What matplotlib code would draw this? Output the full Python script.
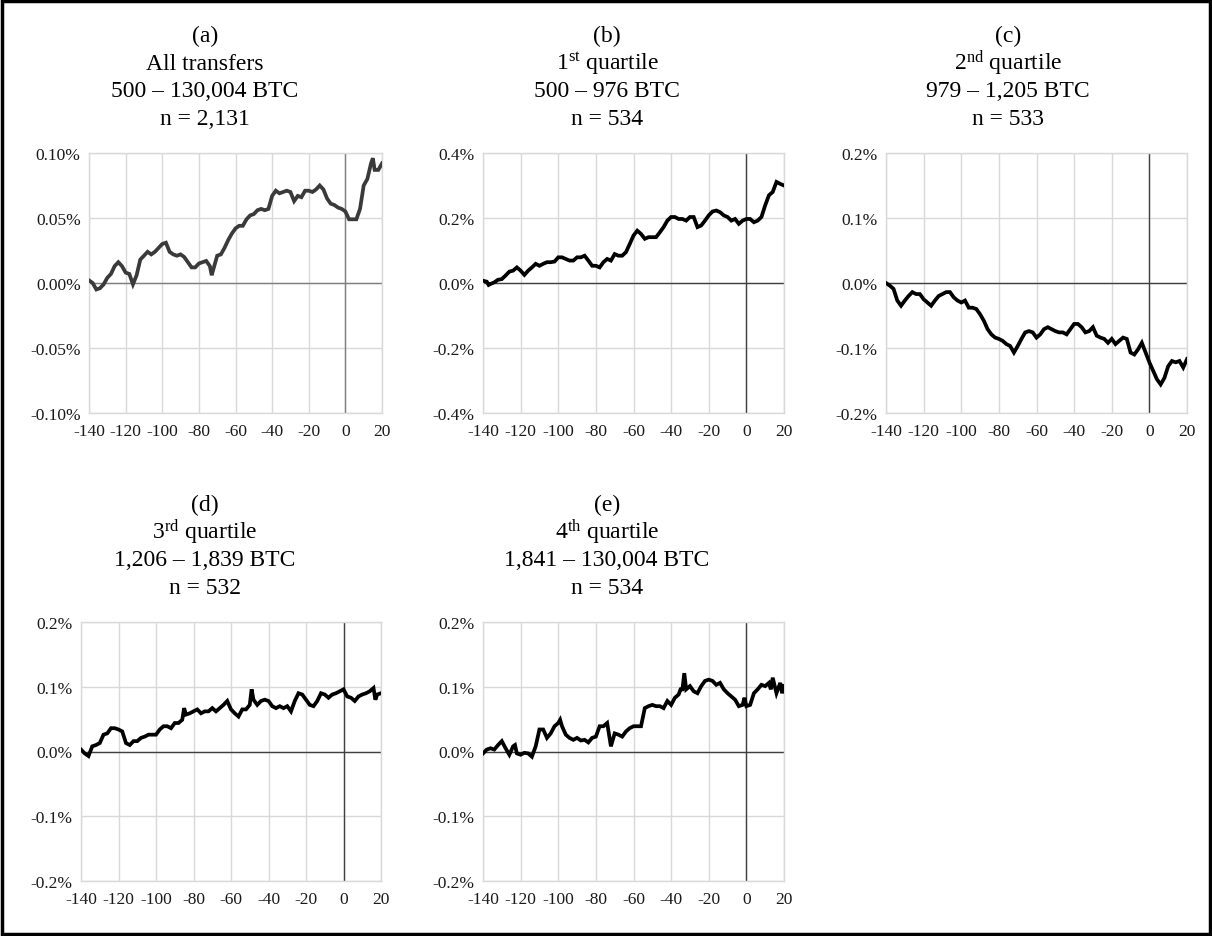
import matplotlib
matplotlib.use("Agg")
import matplotlib.pyplot as plt
from matplotlib.patches import Rectangle
from matplotlib.ticker import FuncFormatter, MultipleLocator, FixedLocator

plt.rcParams['font.family'] = ['Liberation Serif', 'DejaVu Serif']
plt.rcParams['mathtext.fontset'] = 'custom'
plt.rcParams['mathtext.rm'] = 'Liberation Serif'
plt.rcParams['mathtext.it'] = 'Liberation Serif:italic'
plt.rcParams['axes.unicode_minus'] = False

# ---------------------------------------------------------------- data
# Cumulative abnormal return (%) by event day, -140 .. +20
days_a = [-140, -138, -136, -134, -132, -130, -128, -126, -124, -122, -120, -118,
          -116, -114, -112, -110, -108, -106, -104, -102, -100, -98, -96, -94,
          -92, -90, -88, -86, -84, -82, -80, -78, -76, -74, -73, -72, -70, -68,
          -66, -64, -62, -60, -58, -56, -54, -52, -50, -48, -46, -44, -42, -40,
          -38, -36, -34, -32, -30, -28, -26, -24, -22, -20, -18, -16, -14, -12,
          -10, -8, -6, -4, -2, 0, 2, 4, 6, 8, 10, 12, 14, 15, 16, 18, 20]
car_all = [0.002, 0.000, -0.005, -0.004, -0.001, 0.004, 0.007, 0.013, 0.016, 0.013,
           0.008, 0.007, -0.001, 0.006, 0.018, 0.021, 0.024, 0.022, 0.024, 0.027,
           0.030, 0.031, 0.024, 0.022, 0.021, 0.022, 0.020, 0.016, 0.012, 0.012,
           0.015, 0.016, 0.017, 0.013, 0.006, 0.011, 0.021, 0.022, 0.027, 0.033,
           0.038, 0.042, 0.044, 0.044, 0.049, 0.052, 0.053, 0.056, 0.057, 0.056,
           0.057, 0.067, 0.071, 0.069, 0.070, 0.071, 0.070, 0.063, 0.067, 0.066,
           0.071, 0.071, 0.070, 0.072, 0.075, 0.072, 0.065, 0.061, 0.060, 0.058,
           0.057, 0.055, 0.049, 0.049, 0.049, 0.057, 0.075, 0.080, 0.092, 0.096,
           0.087, 0.087, 0.092]

days_b = [-140, -138, -137, -136, -134, -132, -130, -128, -126, -124, -122, -120,
          -118, -116, -114, -112, -110, -108, -106, -104, -102, -100, -98, -96,
          -94, -92, -90, -88, -86, -84, -82, -80, -78, -76, -74, -72, -70, -68,
          -66, -64, -62, -60, -58, -56, -54, -52, -50, -48, -46, -44, -42, -40,
          -38, -36, -34, -32, -30, -28, -26, -24, -22, -20, -18, -16, -14, -12,
          -10, -8, -6, -4, -2, 0, 2, 4, 6, 8, 10, 12, 14, 16, 18, 20]
car_q1 = [0.007, 0.004, -0.006, -0.003, 0.002, 0.010, 0.012, 0.023, 0.035, 0.038,
          0.048, 0.038, 0.025, 0.038, 0.048, 0.059, 0.053, 0.059, 0.064, 0.064,
          0.066, 0.079, 0.079, 0.074, 0.069, 0.069, 0.079, 0.079, 0.084, 0.069,
          0.053, 0.053, 0.048, 0.064, 0.074, 0.069, 0.089, 0.084, 0.084, 0.095,
          0.120, 0.146, 0.161, 0.151, 0.136, 0.141, 0.141, 0.141, 0.156, 0.172,
          0.192, 0.203, 0.203, 0.197, 0.197, 0.192, 0.203, 0.203, 0.172, 0.177,
          0.192, 0.208, 0.220, 0.223, 0.218, 0.208, 0.203, 0.192, 0.197, 0.182,
          0.192, 0.197, 0.197, 0.187, 0.192, 0.203, 0.239, 0.270, 0.280, 0.311,
          0.305, 0.300]

days_c = [-140, -138, -136, -134, -132, -130, -128, -126, -124, -122, -120, -118,
          -116, -114, -112, -110, -108, -106, -104, -102, -100, -98, -96, -94,
          -92, -90, -88, -86, -84, -82, -80, -78, -76, -74, -72, -70, -68, -66,
          -64, -62, -60, -58, -56, -54, -52, -50, -48, -46, -44, -42, -40, -38,
          -36, -34, -32, -30, -28, -26, -24, -22, -20, -18, -16, -14, -12, -10,
          -8, -6, -4, -2, 0, 2, 4, 6, 8, 10, 12, 14, 16, 18, 20]
car_q2 = [0.000, -0.004, -0.009, -0.027, -0.035, -0.027, -0.020, -0.014, -0.017,
          -0.017, -0.025, -0.030, -0.035, -0.027, -0.020, -0.017, -0.014, -0.014,
          -0.022, -0.027, -0.030, -0.027, -0.038, -0.038, -0.040, -0.048, -0.058,
          -0.071, -0.079, -0.084, -0.086, -0.089, -0.094, -0.097, -0.107, -0.097,
          -0.086, -0.076, -0.074, -0.076, -0.084, -0.079, -0.071, -0.068, -0.071,
          -0.074, -0.076, -0.076, -0.079, -0.071, -0.063, -0.063, -0.068, -0.076,
          -0.074, -0.068, -0.081, -0.084, -0.086, -0.092, -0.086, -0.094, -0.089,
          -0.084, -0.086, -0.107, -0.110, -0.102, -0.092, -0.107, -0.122, -0.135,
          -0.148, -0.156, -0.146, -0.128, -0.120, -0.122, -0.120, -0.130, -0.117]

days_d = [-140, -138, -136, -134, -132, -130, -128, -126, -124, -122, -120, -118,
          -116, -114, -112, -110, -108, -106, -104, -102, -100, -98, -96, -94,
          -92, -90, -88, -86, -85, -84, -82, -80, -78, -76, -74, -72, -70, -68,
          -66, -64, -62, -60, -58, -56, -54, -52, -50, -49, -48, -46, -44, -42,
          -40, -38, -36, -34, -32, -30, -28, -26, -24, -22, -20, -18, -16, -14,
          -12, -10, -8, -6, -4, -2, 0, 2, 4, 6, 8, 10, 12, 14, 16, 17, 18, 20]
car_q3 = [0.003, -0.003, -0.007, 0.008, 0.010, 0.013, 0.026, 0.028, 0.036, 0.036,
          0.034, 0.031, 0.013, 0.010, 0.016, 0.016, 0.021, 0.023, 0.026, 0.026,
          0.026, 0.034, 0.039, 0.039, 0.036, 0.044, 0.044, 0.049, 0.067, 0.057,
          0.059, 0.062, 0.065, 0.059, 0.062, 0.062, 0.067, 0.062, 0.067, 0.072,
          0.078, 0.065, 0.059, 0.054, 0.065, 0.065, 0.072, 0.096, 0.080, 0.072,
          0.078, 0.080, 0.078, 0.070, 0.067, 0.070, 0.067, 0.070, 0.062, 0.078,
          0.090, 0.088, 0.080, 0.072, 0.070, 0.078, 0.090, 0.088, 0.083, 0.088,
          0.090, 0.093, 0.096, 0.085, 0.083, 0.078, 0.085, 0.088, 0.090, 0.093,
          0.098, 0.080, 0.088, 0.090]

days_e = [-140, -138, -136, -134, -132, -130, -128, -126, -124, -123, -122, -120,
          -118, -116, -114, -112, -110, -108, -106, -104, -102, -100, -99, -98,
          -96, -94, -92, -90, -88, -86, -84, -82, -80, -78, -76, -74, -72, -70,
          -68, -66, -64, -62, -60, -58, -56, -54, -52, -50, -48, -46, -44, -42,
          -40, -38, -36, -35, -34, -33, -32, -30, -28, -26, -24, -22, -20, -18,
          -16, -14, -12, -10, -8, -6, -4, -2, -1, 0, 2, 4, 6, 8, 10, 12, 13, 14,
          16, 18, 19, 20]
car_q4 = [-0.003, 0.003, 0.005, 0.003, 0.010, 0.016, 0.005, -0.005, 0.008, 0.010,
          -0.003, -0.005, -0.002, -0.003, -0.008, 0.008, 0.034, 0.034, 0.021, 0.028,
          0.039, 0.044, 0.049, 0.039, 0.026, 0.021, 0.018, 0.021, 0.017, 0.018,
          0.014, 0.021, 0.023, 0.039, 0.039, 0.044, 0.008, 0.028, 0.026, 0.023,
          0.031, 0.036, 0.039, 0.039, 0.039, 0.067, 0.070, 0.072, 0.070, 0.070,
          0.067, 0.078, 0.072, 0.083, 0.088, 0.096, 0.096, 0.121, 0.096, 0.101,
          0.093, 0.090, 0.101, 0.109, 0.111, 0.109, 0.103, 0.106, 0.096, 0.090,
          0.085, 0.080, 0.070, 0.072, 0.083, 0.070, 0.072, 0.090, 0.096, 0.103,
          0.101, 0.106, 0.096, 0.114, 0.090, 0.106, 0.090, 0.101]

panel_letters = ["(a)", "(b)", "(c)", "(d)", "(e)"]
panel_groups = ["All transfers", "1$^{\\rm st}$ quartile", "2$^{\\rm nd}$ quartile",
                "3$^{\\rm rd}$ quartile", "4$^{\\rm th}$ quartile"]
panel_ranges = ["500 \u2013 130,004 BTC", "500 \u2013 976 BTC", "979 \u2013 1,205 BTC",
                "1,206 \u2013 1,839 BTC", "1,841 \u2013 130,004 BTC"]
panel_counts = ["n = 2,131", "n = 534", "n = 533", "n = 532", "n = 534"]
y_limits = [0.10, 0.4, 0.2, 0.2, 0.2]
y_steps = [0.05, 0.2, 0.1, 0.1, 0.1]
y_decimals = [2, 1, 1, 1, 1]
x_ticks = [-140, -120, -100, -80, -60, -40, -20, 0, 20]

series = [(days_a, car_all), (days_b, car_q1), (days_c, car_q2),
          (days_d, car_q3), (days_e, car_q4)]

# ---------------------------------------------------------------- layout (pixels)
W, H = 1212, 937
fig = plt.figure(figsize=(W / 100, H / 100), dpi=100)

axes_px = [(89, 154, 382, 414), (483, 154, 784, 414), (886, 154, 1187, 414),
           (81, 623, 381, 882), (483, 623, 784, 882)]
title_cx = [205, 607, 1008, 205, 607]
title_base = [(42, 70, 97, 125), (42, 70, 97, 125), (42, 70, 97, 125),
              (511, 539, 566, 594), (511, 539, 566, 594)]
line_colors = ["#3a3a3a", "black", "black", "black", "black"]
zero_colors = ["#7f7f7f", "#404040", "#404040", "#404040", "#404040"]
grid_color = "#d9d9d9"

for i, (xs, ys) in enumerate(series):
    x0, y0, x1, y1 = axes_px[i]
    ax = fig.add_axes([x0 / W, 1 - y1 / H, (x1 - x0) / W, (y1 - y0) / H])
    lim = y_limits[i]
    ax.set_xlim(-140, 20)
    ax.set_ylim(-lim, lim)
    ax.xaxis.set_major_locator(FixedLocator(x_ticks))
    ax.xaxis.set_major_formatter(FuncFormatter(lambda v, p: f"{v:.0f}"))
    ax.yaxis.set_major_locator(MultipleLocator(y_steps[i]))
    dec = y_decimals[i]
    ax.yaxis.set_major_formatter(FuncFormatter(lambda v, p, d=dec: f"{v:.{d}f}%"))
    ax.tick_params(length=0, labelsize=12.5, colors="#1a1a1a")
    ax.tick_params(axis="y", pad=6)
    ax.tick_params(axis="x", pad=7)
    ax.grid(True, color=grid_color, lw=1.0)
    ax.set_axisbelow(True)
    for s in ax.spines.values():
        s.set_color(grid_color)
        s.set_linewidth(1.0)
    ax.axhline(0, color=zero_colors[i], lw=1.0, zorder=1.5)
    ax.axvline(0, color=zero_colors[i], lw=1.0, zorder=1.5)
    ax.plot(xs, ys, color=line_colors[i], lw=2.7, solid_joinstyle="miter", zorder=3)

    cx = title_cx[i] / W
    lines = [panel_letters[i], panel_groups[i], panel_ranges[i], panel_counts[i]]
    for txt, yb in zip(lines, title_base[i]):
        fig.text(cx, 1 - yb / H, txt, ha="center", va="baseline", fontsize=17,
                 color="black")

# figure frame
fig.patches.append(Rectangle((1.7 / W, 1.7 / H), 1 - 3.4 / W, 1 - 3.4 / H,
                             transform=fig.transFigure, fill=False,
                             edgecolor="black", lw=2.5))

fig.savefig("out.png", dpi=100)
